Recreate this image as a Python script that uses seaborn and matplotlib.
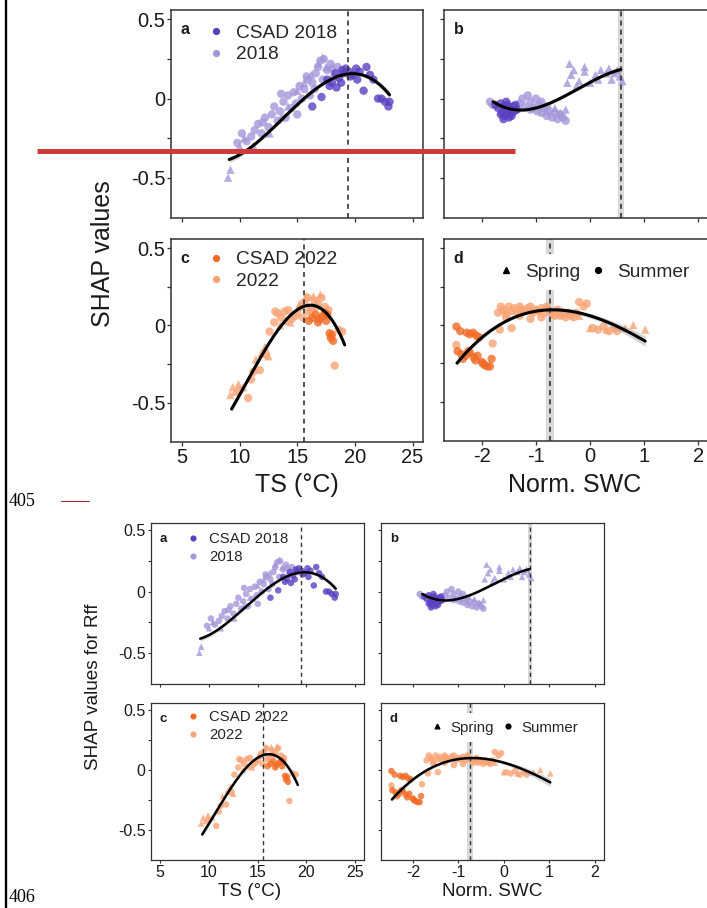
import numpy as np
import pandas as pd
import matplotlib
matplotlib.use("Agg")
import matplotlib.pyplot as plt
import seaborn as sns
from matplotlib.lines import Line2D

sns.set_theme(style="white")
plt.rcParams["font.family"] = ["Liberation Sans", "DejaVu Sans"]

W, H = 707, 908

# ---------------- data ----------------
# Panel a : TS vs SHAP, 2018
a_csad_x = [16.3, 17.1, 17.6, 18.0, 18.3, 18.6, 18.9, 19.2, 19.5, 19.8, 20.1, 20.4, 20.75, 21.0,
            21.3, 21.6, 22.0, 22.3, 22.6, 22.9, 23.0, 18.4, 19.0, 19.6, 20.2, 17.8, 18.8]
a_csad_y = [-0.05, 0.01, 0.12, 0.10, 0.16, 0.13, 0.18, 0.19, 0.17, 0.15, 0.19, 0.17, 0.05, 0.20,
            0.15, 0.12, 0.0, 0.0, -0.02, -0.05, -0.02, 0.07, 0.16, 0.14, 0.12, 0.08, 0.10]
a_sum_x = [9.8, 10.2, 10.6, 11.0, 11.3, 11.6, 11.9, 12.2, 12.5, 12.8, 13.0, 13.3, 13.5, 13.8, 14.0,
           14.2, 14.5, 14.7, 15.0, 15.2, 15.4, 15.6, 15.9, 16.1, 16.3, 16.6, 16.8, 17.0, 17.3, 17.6,
           17.9, 18.2, 18.5, 12.0, 13.6, 14.9, 15.8, 16.5, 17.2, 18.0]
a_sum_y = [-0.28, -0.22, -0.27, -0.24, -0.20, -0.16, -0.22, -0.12, -0.18, -0.10, -0.05, -0.14, -0.08,
           -0.02, -0.12, 0.02, -0.06, 0.04, -0.10, 0.08, 0.0, 0.06, 0.12, 0.02, 0.10, 0.16, 0.20, 0.24,
           0.25, 0.18, 0.22, 0.14, 0.20, -0.15, 0.03, -0.03, 0.14, 0.06, 0.12, 0.19]
a_spr_x = [9.0, 9.2, 10.0, 10.4, 11.2, 12.6, 13.6, 14.2, 15.0, 15.6, 16.2, 16.8, 17.2, 17.5]
a_spr_y = [-0.50, -0.45, -0.30, -0.25, -0.30, -0.22, -0.12, -0.05, 0.05, 0.10, 0.15, 0.22, 0.26, 0.20]

# Panel b : Norm. SWC vs SHAP, 2018
b_csad_x = [-1.75, -1.7, -1.65, -1.62, -1.6, -1.58, -1.55, -1.52, -1.5, -1.48, -1.45, -1.42, -1.4,
            -1.38, -1.35, -1.65, -1.55, -1.45, -1.6, -1.5]
b_csad_y = [-0.04, -0.06, -0.03, -0.09, -0.05, -0.11, -0.07, -0.04, -0.12, -0.06, -0.09, -0.05, -0.08,
            -0.04, -0.07, -0.10, -0.02, -0.11, -0.13, -0.08]
b_sum_x = [-1.85, -1.8, -1.3, -1.25, -1.2, -1.15, -1.1, -1.05, -1.0, -0.98, -0.95, -0.9, -0.85, -0.8,
           -0.75, -0.7, -0.65, -0.6, -0.55, -0.5, -0.45, -1.1, -0.9, -0.8]
b_sum_y = [-0.02, -0.04, -0.03, 0.0, -0.05, 0.02, -0.02, -0.06, 0.0, -0.08, -0.04, -0.09, -0.06, -0.11,
           -0.08, -0.12, -0.09, -0.13, -0.10, -0.12, -0.14, -0.07, -0.02, -0.05]
b_spr_x = [-0.8, -0.65, -0.55, -0.45, -0.42, -0.38, -0.3, -0.2, -0.1, 0.0, 0.1, 0.2, 0.3, 0.4, 0.5,
           0.55, 0.6, -0.35, -0.1, 0.15, 0.35, -0.25, 0.45]
b_spr_y = [-0.08, -0.06, -0.09, -0.07, 0.10, 0.22, 0.18, 0.11, 0.17, 0.10, 0.15, 0.18, 0.16, 0.12, 0.18,
           0.14, 0.11, 0.15, 0.20, 0.12, 0.19, 0.08, 0.16]

# Panel c : TS vs SHAP, 2022
c_csad_x = [16.0, 16.3, 16.6, 16.9, 17.2, 17.4, 17.6, 17.8, 17.9, 18.0, 18.1, 16.8, 17.5]
c_csad_y = [0.03, 0.05, 0.07, 0.04, 0.06, 0.08, 0.07, -0.05, -0.08, -0.06, -0.10, 0.02, 0.03]
c_sum_x = [10.0, 10.74, 11.0, 11.2, 11.75, 12.3, 12.6, 13.0, 13.3, 13.6, 13.9, 14.2, 14.5, 14.8, 15.0,
           15.3, 15.6, 15.9, 16.2, 16.5, 16.8, 17.1, 17.4, 17.7, 18.25, 18.6, 18.9, 15.5, 16.0, 16.6, 13.1]
c_sum_y = [-0.42, -0.47, -0.35, -0.30, -0.29, -0.19, -0.04, 0.02, 0.08, 0.05, 0.09, 0.10, 0.04, 0.06,
           0.08, 0.12, 0.15, 0.18, 0.10, 0.16, 0.14, 0.18, 0.12, 0.10, -0.26, -0.03, -0.04, 0.05, 0.09,
           0.12, 0.09]
c_spr_x = [9.2, 9.4, 9.6, 9.9, 10.3, 11.4, 11.9, 12.2, 12.5, 13.5, 14.0, 14.4, 15.2, 15.8, 16.4, 17.0]
c_spr_y = [-0.45, -0.40, -0.43, -0.38, -0.40, -0.22, -0.18, -0.14, -0.20, 0.0, 0.03, 0.02, 0.14, 0.19,
           0.19, 0.20]

# Panel d : Norm. SWC vs SHAP, 2022
d_csad_x = [-2.47, -2.4, -2.28, -2.22, -2.16, -2.1, -2.05, -2.45, -2.38, -2.3, -2.22, -2.15, -2.08,
            -2.0, -1.95, -1.9, -1.85, -1.82, -2.35, -2.25, -2.12, -1.98]
d_csad_y = [-0.01, -0.04, -0.05, -0.06, -0.05, -0.07, -0.08, -0.17, -0.19, -0.20, -0.18, -0.21, -0.20,
            -0.24, -0.26, -0.27, -0.27, -0.22, -0.22, -0.17, -0.23, -0.25]
d_sum_x = [-2.47, -1.8, -1.67, -1.45, -1.7, -1.65, -1.6, -1.55, -1.5, -1.45, -1.4, -1.35, -1.3, -1.25,
           -1.2, -1.15, -1.1, -1.05, -1.0, -0.95, -0.9, -0.85, -0.8, -0.75, -0.7, -0.65, -0.6, -0.55,
           -0.5, -0.45, -0.4, -0.35, -0.3, -0.25, -0.2, -0.12, -0.06, 0.05, 0.15, 0.25, 0.35, 0.45, 0.5,
           -1.55, -1.3, -1.1, -0.9, -0.6, -0.4]
d_sum_y = [-0.13, -0.12, -0.03, -0.02, 0.08, 0.12, 0.10, 0.07, 0.12, 0.09, 0.11, 0.08, 0.12, 0.10,
           0.09, 0.11, 0.12, 0.08, 0.10, 0.09, 0.11, 0.08, 0.12, 0.09, 0.07, 0.06, 0.08, 0.06, 0.07,
           0.05, 0.07, 0.06, 0.05, 0.08, 0.15, 0.12, 0.14, -0.02, -0.03, -0.01, -0.04, -0.02, -0.04,
           0.05, 0.06, 0.04, 0.05, 0.10, 0.08]
d_spr_x = [-1.6, -1.3, -1.0, -0.8, -0.5, 0.0, 0.3, 0.65, 0.8, 1.02, -0.2]
d_spr_y = [0.10, 0.11, 0.10, 0.12, 0.09, -0.02, -0.03, -0.02, 0.0, -0.03, 0.06]

# fitted curves (knots) and ribbon half-widths
fit_a_x = [9.1, 11.18, 13.2, 15.2, 16.95, 18.1, 19.4, 20.7, 21.86, 23.0]
fit_a_y = [-0.388, -0.287, -0.171, -0.034, 0.082, 0.135, 0.16, 0.146, 0.093, 0.03]
fit_a_se = [0.02, 0.012, 0.01, 0.01, 0.01, 0.012, 0.012, 0.012, 0.015, 0.025]
fit_b_x = [-1.79, -1.54, -1.23, -0.93, -0.62, -0.31, 0.0, 0.31, 0.57]
fit_b_y = [-0.023, -0.055, -0.070, -0.059, -0.013, 0.051, 0.103, 0.152, 0.184]
fit_b_se = [0.015, 0.01, 0.01, 0.01, 0.01, 0.01, 0.01, 0.012, 0.02]
fit_c_x = [9.3, 10.31, 11.47, 12.62, 13.77, 14.64, 15.65, 16.66, 17.53, 18.39, 19.11]
fit_c_y = [-0.548, -0.398, -0.247, -0.118, 0.011, 0.086, 0.123, 0.123, 0.086, -0.011, -0.129]
fit_c_se = [0.02, 0.015, 0.012, 0.01, 0.01, 0.01, 0.012, 0.012, 0.012, 0.015, 0.02]
fit_d_x = [-2.46, -2.22, -1.98, -1.73, -1.42, -1.11, -0.74, -0.37, 0.0, 0.37, 0.74, 1.02]
fit_d_y = [-0.243, -0.161, -0.075, -0.011, 0.043, 0.086, 0.108, 0.086, 0.054, 0.011, -0.043, -0.108]
fit_d_se = [0.02, 0.015, 0.012, 0.01, 0.008, 0.008, 0.01, 0.012, 0.015, 0.02, 0.028, 0.035]

# optimum lines (x position, half-width of grey band)
vline_x = {"a": 19.4, "b": 0.57, "c": 15.56, "d": -0.74}
vband_w = {"a": 0.0, "b": 0.05, "c": 0.0, "d": 0.07}

ts_ticks = [5, 10, 15, 20, 25]
swc_ticks = [-2, -1, 0, 1, 2]
y_ticks = [-0.5, -0.25, 0, 0.25, 0.5]
y_ticklabels = ["-0.5", "", "0", "", "0.5"]

COLORS = {"CSAD 2018": "#5a3fc2", "2018": "#a497da", "CSAD 2022": "#f26a25", "2022": "#f8a476"}


def panel_df(sum_x, sum_y, spr_x, spr_y, csad_x, csad_y, year):
    rows = []
    for x, y in zip(sum_x, sum_y):
        rows.append((x, y, year, "Summer"))
    for x, y in zip(spr_x, spr_y):
        rows.append((x, y, year, "Spring"))
    for x, y in zip(csad_x, csad_y):
        rows.append((x, y, "CSAD " + year, "Summer"))
    return pd.DataFrame(rows, columns=["x", "y", "group", "season"])


DATA = {
    "a": panel_df(a_sum_x, a_sum_y, a_spr_x, a_spr_y, a_csad_x, a_csad_y, "2018"),
    "b": panel_df(b_sum_x, b_sum_y, b_spr_x, b_spr_y, b_csad_x, b_csad_y, "2018"),
    "c": panel_df(c_sum_x, c_sum_y, c_spr_x, c_spr_y, c_csad_x, c_csad_y, "2022"),
    "d": panel_df(d_sum_x, d_sum_y, d_spr_x, d_spr_y, d_csad_x, d_csad_y, "2022"),
}
FITS = {
    "a": (fit_a_x, fit_a_y, fit_a_se, 4),
    "b": (fit_b_x, fit_b_y, fit_b_se, 3),
    "c": (fit_c_x, fit_c_y, fit_c_se, 3),
    "d": (fit_d_x, fit_d_y, fit_d_se, 3),
}

fig = plt.figure(figsize=(W / 100, H / 100), dpi=100)
fig.patch.set_facecolor("white")


def fx(x):
    return x / W


def fy(y):
    return 1 - y / H


def add_ax(l, t, r, b):
    return fig.add_axes([l / W, 1 - b / H, (r - l) / W, (b - t) / H])


def draw_panel(ax, key, sc, show_x, show_y):
    df = DATA[key]
    year = "2018" if key in "ab" else "2022"
    pal = {year: COLORS[year], "CSAD " + year: COLORS["CSAD " + year]}
    if vband_w[key] > 0:
        ax.axvspan(vline_x[key] - vband_w[key], vline_x[key] + vband_w[key],
                   color="#d9d9d9", lw=0, zorder=0.5)
    light = df[df.group == year]
    dark = df[df.group != year]
    for sub in (light, dark):
        sns.scatterplot(data=sub, x="x", y="y", hue="group", style="season", palette=pal,
                        markers={"Summer": "o", "Spring": "^"}, s=sc["s"], alpha=0.8,
                        linewidth=0, legend=False, ax=ax, zorder=2)
    ax.axvline(vline_x[key], color="#333333", lw=sc["dash_lw"], ls=(0, (3, 2.5)), zorder=3)
    fxk, fyk, fse, order = FITS[key]
    coef = np.polyfit(fxk, fyk, order)
    grid = np.linspace(min(fxk), max(fxk), 200)
    vals = np.polyval(coef, grid)
    se = np.interp(grid, fxk, fse)
    ax.fill_between(grid, vals - se, vals + se, color="#8c8c8c", alpha=0.35, lw=0, zorder=3.5)
    sns.lineplot(x=grid, y=vals, color="black", lw=sc["fit_lw"], ax=ax, zorder=4)

    if key in "ac":
        ax.set_xlim(4.05, 25.9)
        ax.set_xticks(ts_ticks)
        ax.set_xticklabels([str(t) for t in ts_ticks])
    else:
        ax.set_xlim(-2.70, 2.2)
        ax.set_xticks(swc_ticks)
        ax.set_xticklabels([str(t) for t in swc_ticks])
    ax.set_ylim(-0.755, 0.56)
    ax.set_yticks(y_ticks)
    ax.set_yticklabels(y_ticklabels)
    ax.set_xlabel("")
    ax.set_ylabel("")
    ax.tick_params(axis="both", which="major", direction="out", length=sc["tick_len"], width=sc["tick_w"],
                   color="#333333", labelsize=sc["tick_fs"], labelcolor="#1a1a1a",
                   left=True, bottom=True, pad=sc["pad"])
    ax.tick_params(axis="x", labelbottom=show_x)
    ax.tick_params(axis="y", labelleft=show_y)
    for sp in ax.spines.values():
        sp.set_visible(True)
        sp.set_color("#333333")
        sp.set_linewidth(sc["spine"])
    ax.grid(False)
    ax.set_facecolor("white")


def draw_figure(boxes, sc):
    axes = {}
    for key in "abcd":
        ax = add_ax(*boxes[key])
        draw_panel(ax, key, sc, show_x=key in "cd", show_y=key in "ac")
        axes[key] = ax
        ax.text(sc["letter_pos"][0], sc["letter_pos"][1], key, transform=ax.transAxes,
                fontsize=sc["letter_fs"], fontweight="bold", ha="center", va="center", color="#1a1a1a")
    for key, year in (("a", "2018"), ("c", "2022")):
        h = [Line2D([], [], ls="", marker="o", ms=sc["leg_ms"], color=COLORS["CSAD " + year]),
             Line2D([], [], ls="", marker="o", ms=sc["leg_ms"], color=COLORS[year])]
        axes[key].legend(h, ["CSAD " + year, year], loc="upper left", bbox_to_anchor=sc["leg_anchor"][key],
                         frameon=False, fontsize=sc["leg_fs"], handlelength=0.6, handletextpad=sc["leg_tp"],
                         labelspacing=sc["leg_ls"], borderpad=0, borderaxespad=0)
    h = [Line2D([], [], ls="", marker="^", ms=sc["leg_ms"], color="black"),
         Line2D([], [], ls="", marker="o", ms=sc["leg_ms"], color="black")]
    lg = axes["d"].legend(h, ["Spring", "Summer"], loc="upper left", bbox_to_anchor=sc["leg_anchor"]["d"],
                          ncol=2, frameon=True, fontsize=sc["leg_fs"], handlelength=0.6,
                          handletextpad=sc["leg_tp_d"], columnspacing=sc["leg_cs"], borderpad=0.5,
                          borderaxespad=0)
    lg.get_frame().set_facecolor("white")
    lg.get_frame().set_edgecolor("none")
    lg.get_frame().set_alpha(1)
    lg.set_zorder(10)
    return axes


top = dict(s=36, fit_lw=2.2, dash_lw=1.2, tick_len=2.8, tick_w=0.9, tick_fs=14.5, pad=1.2,
           spine=1.1, letter_fs=11.5, letter_pos=(0.055, 0.905), leg_ms=4.2, leg_fs=13.8,
           leg_tp=0.73, leg_tp_d=0.69, leg_cs=0.63, leg_ls=0.2,
           leg_anchor={"a": (0.155, 0.93), "c": (0.155, 0.941), "d": (0.176, 0.928)})
bot = dict(s=22, fit_lw=1.8, dash_lw=1.0, tick_len=2.4, tick_w=0.8, tick_fs=11.5, pad=1.5,
           spine=0.9, letter_fs=9.5, letter_pos=(0.057, 0.9), leg_ms=3.4, leg_fs=10.8,
           leg_tp=0.77, leg_tp_d=0.57, leg_cs=0.7, leg_ls=0.27,
           leg_anchor={"a": (0.176, 0.942), "c": (0.176, 0.953), "d": (0.197, 0.936)})

draw_figure({"a": (171, 10, 423, 218), "b": (444, 10, 709, 218),
             "c": (171, 239, 423, 442), "d": (444, 239, 709, 441)}, top)
draw_figure({"a": (151, 523, 364, 684), "b": (381, 523, 604, 684),
             "c": (151, 703, 364, 860), "d": (381, 703, 604, 860)}, bot)

# axis titles
fig.text(fx(103), fy(254), "SHAP values", rotation=90, ha="center", va="center", fontsize=18, color="#1a1a1a")
fig.text(fx(297), fy(485), "TS (°C)", ha="center", va="center", fontsize=18, color="#1a1a1a")
fig.text(fx(575), fy(485), "Norm. SWC", ha="center", va="center", fontsize=18, color="#1a1a1a")
fig.text(fx(93), fy(687), "SHAP values for Rff", rotation=90, ha="center", va="center", fontsize=13.6,
         color="#1a1a1a")
fig.text(fx(250), fy(892), "TS (°C)", ha="center", va="center", fontsize=13.6, color="#1a1a1a")
fig.text(fx(492), fy(892), "Norm. SWC", ha="center", va="center", fontsize=13.6, color="#1a1a1a")

# document decorations
fig.add_artist(Line2D([fx(6.2), fx(6.2)], [0, 1], color="black", lw=1.7, transform=fig.transFigure))
fig.add_artist(Line2D([fx(37), fx(515)], [fy(150.5), fy(150.5)], color="#d13a3a", lw=3.6,
                      transform=fig.transFigure, solid_capstyle="butt"))
fig.text(fx(9), fy(501), "405", ha="left", va="center", fontsize=13, family="Liberation Serif", color="black")
fig.add_artist(Line2D([fx(61), fx(89)], [fy(501), fy(501)], color="#9b3333", lw=0.8,
                      transform=fig.transFigure))
fig.text(fx(9), fy(898), "406", ha="left", va="center", fontsize=13, family="Liberation Serif", color="black")

fig.savefig("out.png", dpi=100, facecolor="white")
